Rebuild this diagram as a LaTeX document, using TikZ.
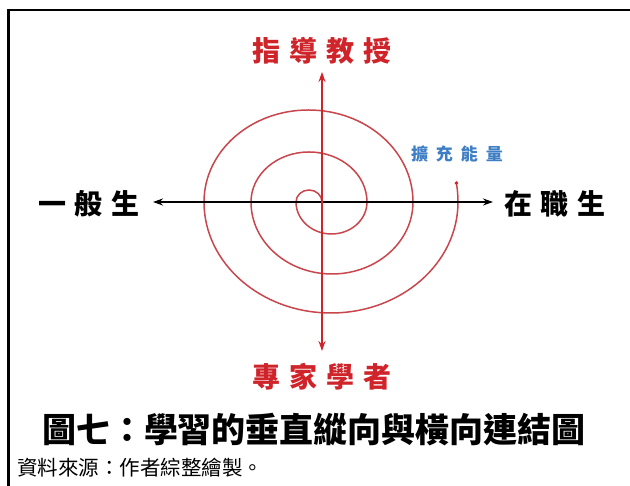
\documentclass[tikz,border=0pt]{standalone}
\usepackage{fontspec}
\setmainfont{Noto Sans CJK TC}
\usetikzlibrary{arrows.meta}
\definecolor{axisred}{HTML}{D0242B}
\definecolor{spiralred}{HTML}{C8464C}
\definecolor{bluetxt}{HTML}{3D7EC4}
\begin{document}
\begin{tikzpicture}[x=1pt,y=1pt,
  lbl/.style={font=\bfseries\fontsize{28}{30}\selectfont, inner sep=0pt},
  spiral/.style={draw=spiralred, line width=1.5pt},
  tip/.style={Stealth[length=10pt,width=7pt]}
]
\fill[white] (0,0) rectangle (630,486);
\useasboundingbox (0,0) rectangle (630,486);
\draw[line width=2.6pt, black] (8.5,-2) -- (8.5,476) -- (632,476);
% spiral
\coordinate (S0) at (322,284);
\draw[spiral] (S0) arc[start angle=0,end angle=180,x radius=13pt,y radius=12pt]
  arc[start angle=180,end angle=360,x radius=35.5pt,y radius=32pt]
  arc[start angle=0,end angle=180,x radius=58pt,y radius=50pt]
  arc[start angle=180,end angle=360,x radius=81pt,y radius=72pt]
  arc[start angle=0,end angle=180,x radius=104.5pt,y radius=92pt]
  arc[start angle=180,end angle=360,x radius=127pt,y radius=111pt]
  arc[start angle=0,end angle=8.4,x radius=149pt,y radius=130pt] coordinate (S1);
\fill[axisred] (S1) circle (1.9pt);
% axes
\coordinate (L) at (153,284);
\coordinate (R) at (493,284);
\coordinate (T) at (322,414);
\coordinate (B) at (322,135);
\draw[black, line width=2.2pt, {Stealth[length=10pt,width=7pt]}-{Stealth[length=10pt,width=7pt]}] (L) -- (R);
\draw[axisred, line width=2.3pt, {Stealth[length=10pt,width=7pt]}-{Stealth[length=10pt,width=7pt]}] (B) -- (T);
% labels
\node[lbl, text=axisred] (prof) at (322,435) {指\hspace{9pt}導\hspace{9pt}教\hspace{9pt}授};
\node[lbl, text=axisred] (expert) at (322,109) {專\hspace{9pt}家\hspace{9pt}學\hspace{9pt}者};
\node[lbl] (gen) at (89,282) {一\hspace{9pt}般\hspace{9pt}生};
\node[lbl] (job) at (555,282) {在\hspace{9pt}職\hspace{9pt}生};
\node[font=\bfseries\fontsize{17}{18}\selectfont, text=bluetxt, inner sep=0pt] (energy) at (457,332) {擴\hspace{8pt}充\hspace{8pt}能\hspace{8pt}量};
\node[font=\bfseries\fontsize{34}{36}\selectfont, inner sep=0pt] (title) at (314,56) {圖七：學習的垂直縱向與橫向連結圖};
\node[anchor=west, font=\fontsize{20.5}{22}\selectfont, inner sep=0pt] (src) at (17,18) {資料來源：作者綜整繪製。};
\end{tikzpicture}
\end{document}
